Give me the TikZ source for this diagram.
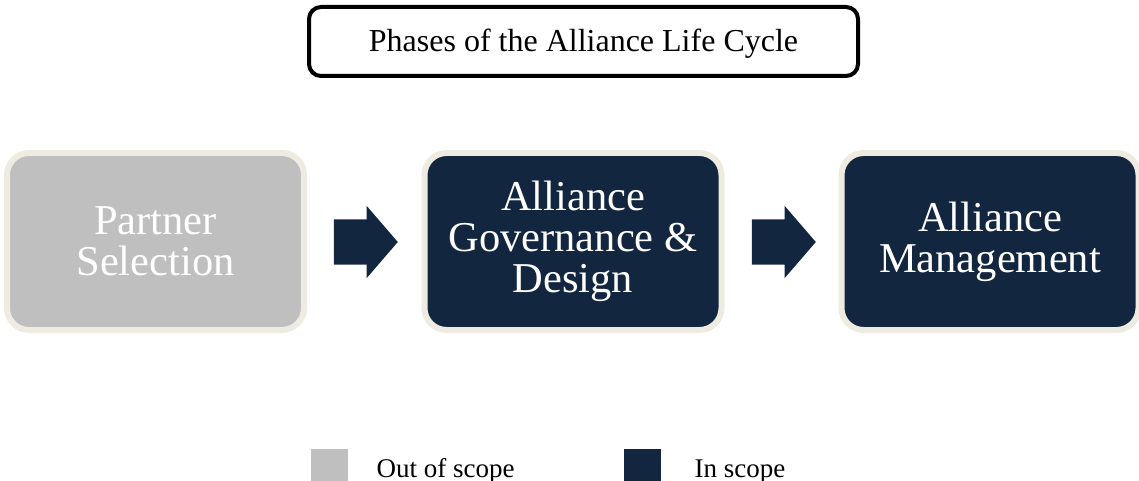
\documentclass[tikz,border=0pt]{standalone}
\usepackage{fontspec}
\setmainfont{Liberation Serif}
\usetikzlibrary{shapes.arrows}
\definecolor{navy}{HTML}{13263F}
\definecolor{outgray}{HTML}{BFBFBF}
\definecolor{rim}{HTML}{EEECE1}

\begin{document}
\begin{tikzpicture}[x=1pt,y=-1pt,
  phase/.style={draw=rim,line width=6pt,rounded corners=22pt,minimum width=297pt,minimum height=177pt,inner sep=0pt,text=white,align=center,font=\fontsize{42.5}{41}\selectfont},
  flow/.style={single arrow,fill=navy,draw=none,minimum height=64pt,minimum width=72pt,single arrow head extend=13.5pt,single arrow tip angle=98.5,inner sep=0pt},
  key/.style={minimum width=37pt,minimum height=32pt,inner sep=0pt},
  keytext/.style={anchor=base west,font=\fontsize{27}{30}\selectfont}]
  \useasboundingbox (0,0) rectangle (1139,481);

    %title
    \node (T) at (583.5,41.5)[draw,line width=4pt,rounded corners=12pt,minimum width=549pt,minimum height=69pt,text depth=2pt,font=\fontsize{32}{36}\selectfont]{Phases of the Alliance Life Cycle};

    %phases
    \node (P1) at (155.5,241.5)[phase,fill=outgray]{Partner\\Selection};
    \node (P2) at (573,241.5)[phase,fill=navy]{Alliance\\Governance \&\\Design};
    \node (P3) at (990,241.5)[phase,fill=navy]{Alliance\\Management};

    %block arrows
    \node (A12) at (356,242)[flow]{\rule{0pt}{45pt}};
    \node (A23) at (774,242)[flow]{\rule{0pt}{45pt}};

    %legend
    \node (K1) at (329.5,465)[key,fill=outgray]{};
    \node (K2) at (642,465)[key,fill=navy]{};
    \node (L1) at (373,477)[keytext]{Out of scope};
    \node (L2) at (691,477)[keytext]{In scope};
  \end{tikzpicture}
\end{document}
